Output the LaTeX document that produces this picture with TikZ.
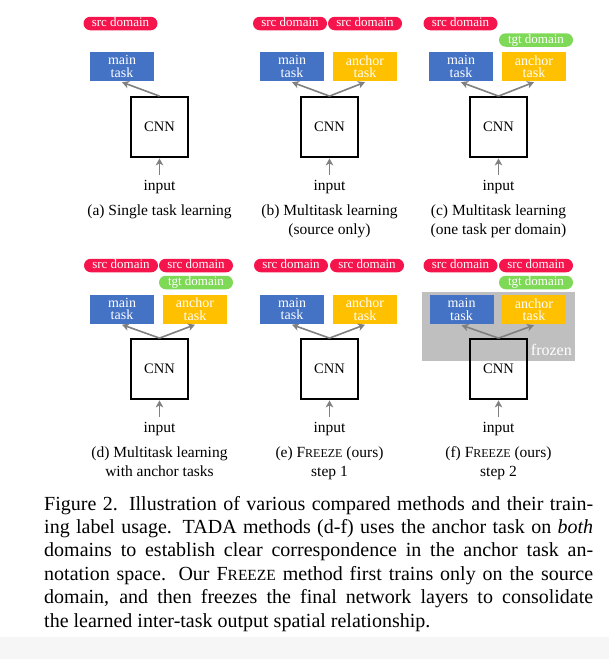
\documentclass[tikz,border=0pt]{standalone}
\usepackage{fontspec}
\setmainfont{Liberation Serif}
\usetikzlibrary{arrows.meta}
\definecolor{taskblue}{HTML}{4472C4}
\definecolor{taskyellow}{HTML}{FFC000}
\definecolor{pillred}{HTML}{F5144B}
\definecolor{pillgreen}{HTML}{7ED957}
\definecolor{frozengray}{HTML}{BFBFBF}
\definecolor{arrowgray}{HTML}{808080}
\definecolor{stripgray}{HTML}{F6F6F6}
\newcommand{\fsize}[2]{\fontsize{#1}{#2}\selectfont}
\newcommand{\fakesc}[2]{{\fontsize{#1}{#1}\selectfont #2}}
\begin{document}
\begin{tikzpicture}[x=1pt,y=-1pt,
  taskbox/.style={rectangle, minimum width=64pt, minimum height=29pt, inner sep=0pt, text=white, align=center, font=\fsize{14}{12.5}},
  mainbox/.style={taskbox, fill=taskblue},
  anchorbox/.style={taskbox, fill=taskyellow},
  pill/.style={rectangle, rounded corners=6.75pt, minimum width=74pt, minimum height=13.5pt, inner sep=0pt, text=white, font=\fsize{13}{13}, text height=8.5pt, text depth=2.5pt},
  srcpill/.style={pill, fill=pillred},
  tgtpill/.style={pill, fill=pillgreen},
  cnn/.style={rectangle, draw=black, line width=1.8pt, minimum width=57pt, minimum height=60pt, inner sep=0pt, font=\fsize{14.5}{14.5}},
  arr/.style={draw=arrowgray, line width=1.6pt, -{Stealth[length=7pt,width=7.5pt,inset=2pt]}},
  lbl/.style={inner sep=0pt, anchor=base, font=\fsize{15.5}{19}, align=center},
]
\useasboundingbox (0,0) rectangle (609,659);
\fill[white] (0,0) rectangle (609,659);
\fill[stripgray] (0,637) rectangle (609,659);

% ---------- (a) ----------
\node[srcpill] (a-src) at (120.5,23.5) {src domain};
\node[mainbox] (a-main) at (122,66.5) {main\\task};
\node[cnn] (a-cnn) at (159.5,127) {CNN};
\coordinate (a-in) at (159.5,175);
\node[lbl] (a-input) at (159.5,190) {input};
\node[lbl] (a-cap) at (159.5,215) {(a) Single task learning};
\draw[arr] (a-cnn.north) -- ([yshift=-1pt]a-main.south);
\draw[arr, shorten >=0.5pt] (a-in) -- (a-cnn.south);

% ---------- (b) ----------
\node[srcpill] (b-src1) at (290,23.5) {src domain};
\node[srcpill] (b-src2) at (365,23.5) {src domain};
\node[mainbox] (b-main) at (292,66.5) {main\\task};
\node[anchorbox] (b-anchor) at (365,66.5) {anchor\\task};
\node[cnn] (b-cnn) at (329.5,127) {CNN};
\coordinate (b-in) at (329.5,175);
\node[lbl] (b-input) at (329.5,190) {input};
\node[lbl] (b-cap) at (329.5,234) {(b) Multitask learning\\(source only)};
\draw[arr] (b-cnn.north) -- ([yshift=-1pt]b-main.south);
\draw[arr] (b-cnn.north) -- ([yshift=-1pt]b-anchor.south);
\draw[arr, shorten >=0.5pt] (b-in) -- (b-cnn.south);

% ---------- (c) ----------
\node[srcpill] (c-src) at (460.5,23.5) {src domain};
\node[tgtpill] (c-tgt) at (536,40) {tgt domain};
\node[mainbox] (c-main) at (461,66.5) {main\\task};
\node[anchorbox] (c-anchor) at (534,66.5) {anchor\\task};
\node[cnn] (c-cnn) at (498.5,127) {CNN};
\coordinate (c-in) at (498.5,175);
\node[lbl] (c-input) at (498.5,190) {input};
\node[lbl] (c-cap) at (498.5,234) {(c) Multitask learning\\(one task per domain)};
\draw[arr] (c-cnn.north) -- ([yshift=-1pt]c-main.south);
\draw[arr] (c-cnn.north) -- ([yshift=-1pt]c-anchor.south);
\draw[arr, shorten >=0.5pt] (c-in) -- (c-cnn.south);

% ---------- (d) ----------
\node[srcpill] (d-src1) at (121,265.5) {src domain};
\node[srcpill] (d-src2) at (196,265.5) {src domain};
\node[tgtpill] (d-tgt) at (196,282.5) {tgt domain};
\node[mainbox] (d-main) at (122,309) {main\\task};
\node[anchorbox] (d-anchor) at (195,309) {anchor\\task};
\node[cnn] (d-cnn) at (159.5,369) {CNN};
\coordinate (d-in) at (159.5,417);
\node[lbl] (d-input) at (159.5,432) {input};
\node[lbl] (d-cap) at (159.5,476) {(d) Multitask learning\\with anchor tasks};
\draw[arr] (d-cnn.north) -- ([yshift=-1pt]d-main.south);
\draw[arr] (d-cnn.north) -- ([yshift=-1pt]d-anchor.south);
\draw[arr, shorten >=0.5pt] (d-in) -- (d-cnn.south);

% ---------- (e) ----------
\node[srcpill] (e-src1) at (291,265.5) {src domain};
\node[srcpill] (e-src2) at (367,265.5) {src domain};
\node[mainbox] (e-main) at (292,309) {main\\task};
\node[anchorbox] (e-anchor) at (365,309) {anchor\\task};
\node[cnn] (e-cnn) at (329.5,369) {CNN};
\coordinate (e-in) at (329.5,417);
\node[lbl] (e-input) at (329.5,432) {input};
\node[lbl] (e-cap) at (329.5,476) {(e) F\fakesc{12}{REEZE} (ours)\\step 1};
\draw[arr] (e-cnn.north) -- ([yshift=-1pt]e-main.south);
\draw[arr] (e-cnn.north) -- ([yshift=-1pt]e-anchor.south);
\draw[arr, shorten >=0.5pt] (e-in) -- (e-cnn.south);

% ---------- (f) ----------
\fill[frozengray] (422,292) rectangle (575,361);
\node[anchor=base east, inner sep=0pt, text=white, font=\fsize{16}{16}] (f-frozen) at (572,355) {frozen};
\node[srcpill] (f-src1) at (460.5,265.5) {src domain};
\node[srcpill] (f-src2) at (536,265.5) {src domain};
\node[tgtpill] (f-tgt) at (536,282.5) {tgt domain};
\node[mainbox] (f-main) at (461.5,309.5) {main\\task};
\node[anchorbox] (f-anchor) at (534,309.5) {anchor\\task};
\node[cnn] (f-cnn) at (498.5,369) {CNN};
\coordinate (f-in) at (498.5,417);
\node[lbl] (f-input) at (498.5,432) {input};
\node[lbl] (f-cap) at (498.5,476) {(f) F\fakesc{12}{REEZE} (ours)\\step 2};
\draw[arr] (f-cnn.north) -- ([yshift=-1pt]f-main.south);
\draw[arr] (f-cnn.north) -- ([yshift=-1pt]f-anchor.south);
\draw[arr, shorten >=0.5pt] (f-in) -- (f-cnn.south);

% ---------- caption ----------
\node[anchor=base west, inner sep=0pt, text width=549pt, align=justify, font=\fsize{20}{23.4}] (caption) at (44,510)
{Figure 2. Illustration of various compared methods and their train-\linebreak
ing label usage. TADA methods (d-f) uses the anchor task on \textit{both}\linebreak
domains to establish clear correspondence in the anchor task an-\linebreak
notation space. Our F\fakesc{15.5}{REEZE} method first trains only on the source\linebreak
domain, and then freezes the final network layers to consolidate\linebreak
the learned inter-task output spatial relationship.};
\end{tikzpicture}
\end{document}
